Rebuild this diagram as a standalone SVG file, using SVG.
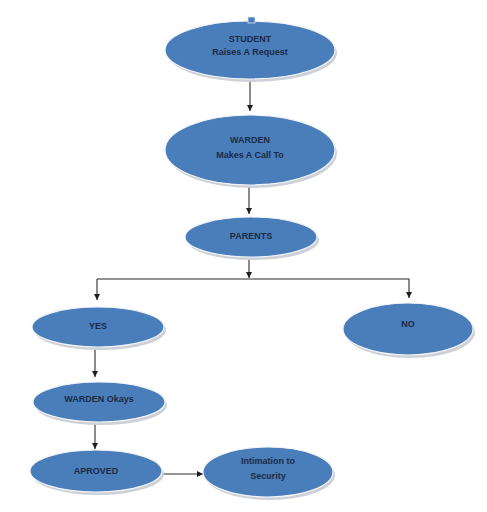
<svg xmlns="http://www.w3.org/2000/svg" width="487" height="512" viewBox="0 0 487 512">
<style>
.sh{fill:#cdd1d7;stroke:none}
.el{fill:#4a7ebb;stroke:#f2f4f8;stroke-width:1.2}
.t{font-family:"Liberation Sans",Arial,sans-serif;font-weight:bold;font-size:9px;fill:#1c2a44;text-anchor:middle}
.c{fill:none;stroke:#2b2b2b;stroke-width:1.1}
</style>
<defs>
<marker id="ah" viewBox="0 0 6 6" refX="6" refY="3" markerWidth="6" markerHeight="6" orient="auto" markerUnits="userSpaceOnUse">
<path d="M0,0 L6,3 L0,6 z" fill="#1e1e1e"/>
</marker>
</defs>
<rect width="487" height="512" fill="#ffffff"/>
<g id="connectors">
<line class="c" x1="250" y1="81" x2="250" y2="111" marker-end="url(#ah)"/>
<line class="c" x1="249" y1="186" x2="249" y2="214" marker-end="url(#ah)"/>
<line class="c" x1="249" y1="259" x2="249" y2="278" marker-end="url(#ah)"/>
<polyline class="c" points="97,279 409,279 409,298" marker-end="url(#ah)"/>
<line class="c" x1="97" y1="279" x2="97" y2="300" marker-end="url(#ah)"/>
<line class="c" x1="95" y1="348" x2="95" y2="377" marker-end="url(#ah)"/>
<line class="c" x1="95" y1="423" x2="95" y2="449" marker-end="url(#ah)"/>
<line class="c" x1="163" y1="474" x2="203" y2="474" marker-end="url(#ah)"/>
</g>
<g id="student">
<ellipse class="sh" cx="252" cy="53" rx="85" ry="29"/>
<ellipse class="el" cx="250" cy="50" rx="85" ry="29"/>
<rect x="248" y="17" width="7" height="6" fill="#4a7ebb" stroke="#dfe6f0" stroke-width="0.8"/>
<text class="t" x="250" y="42">STUDENT</text>
<text class="t" x="250" y="55">Raises A Request</text>
</g>
<g id="warden">
<ellipse class="sh" cx="252" cy="153" rx="85" ry="35"/>
<ellipse class="el" cx="250" cy="150" rx="85" ry="35"/>
<text class="t" x="250" y="143">WARDEN</text>
<text class="t" x="250" y="158">Makes A Call To</text>
</g>
<g id="parents">
<ellipse class="sh" cx="253" cy="240" rx="66" ry="20"/>
<ellipse class="el" cx="251" cy="237" rx="66" ry="20"/>
<text class="t" x="251" y="239">PARENTS</text>
</g>
<g id="yes">
<ellipse class="sh" cx="100" cy="330" rx="66" ry="20"/>
<ellipse class="el" cx="98" cy="327" rx="66" ry="20"/>
<text class="t" x="98" y="329">YES</text>
</g>
<g id="no">
<ellipse class="sh" cx="410" cy="332" rx="65" ry="26"/>
<ellipse class="el" cx="408" cy="329" rx="65" ry="26"/>
<text class="t" x="408" y="327">NO</text>
</g>
<g id="warden-okays">
<ellipse class="sh" cx="101" cy="405" rx="66" ry="20"/>
<ellipse class="el" cx="99" cy="402" rx="66" ry="20"/>
<text class="t" x="99" y="402">WARDEN Okays</text>
</g>
<g id="aproved">
<ellipse class="sh" cx="98" cy="474" rx="66" ry="21"/>
<ellipse class="el" cx="96" cy="471" rx="66" ry="21"/>
<text class="t" x="96" y="474">APROVED</text>
</g>
<g id="intimation">
<ellipse class="sh" cx="270" cy="475" rx="65" ry="25"/>
<ellipse class="el" cx="268" cy="472" rx="65" ry="25"/>
<text class="t" x="268" y="464">Intimation to</text>
<text class="t" x="268" y="479">Security</text>
</g>
</svg>
